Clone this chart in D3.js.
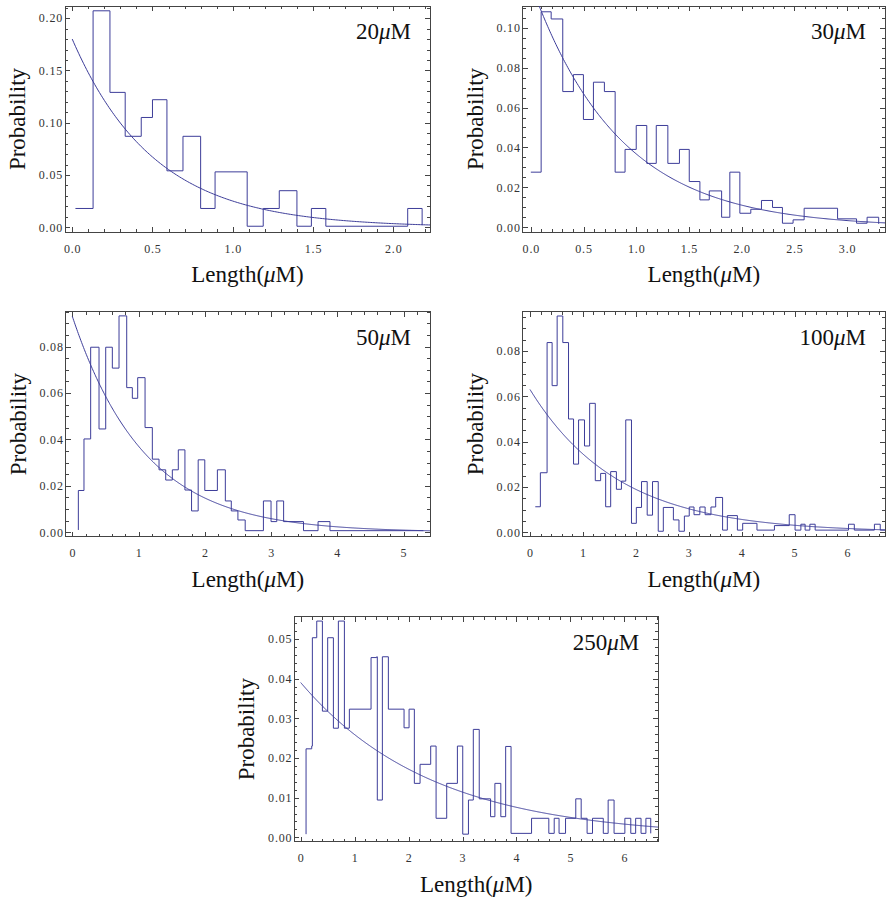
<!DOCTYPE html>
<html>
<head>
<meta charset="utf-8">
<script src="https://cdn.jsdelivr.net/npm/d3@7"></script>
<style>
  body { margin: 0; background: #fff; }
  svg { display: block; }
  .tick text { font-family: "Liberation Serif", "Times New Roman", serif; font-size: 12px; fill: #333; letter-spacing: 0.8px; }
  .tick line { stroke: #444; shape-rendering: crispEdges; }
  .title { font-family: "Liberation Serif", "Times New Roman", serif; font-size: 23px; fill: #111; }
</style>
</head>
<body>
<div id="chart"></div>
<script>
const width = 886;
const height = 900;

// Concentration of each panel
const concentrations = ["20", "30", "50", "100", "250"];

// Histogram steps: [x where the step starts, probability]
const hist20 = [
  [0.02, 0.018], [0.13, 0.207], [0.235, 0.129], [0.33, 0.087], [0.43, 0.105],
  [0.50, 0.122], [0.59, 0.054], [0.69, 0.087], [0.80, 0.018], [0.89, 0.053],
  [1.09, 0.001], [1.19, 0.018], [1.29, 0.035], [1.40, 0.001], [1.49, 0.018],
  [1.58, 0.001], [2.09, 0.018], [2.18, 0.002]
];
const hist30 = [
  [0.0, 0.0276], [0.098, 0.108], [0.193, 0.1044], [0.303, 0.068], [0.404, 0.0765],
  [0.499, 0.054], [0.594, 0.0727], [0.698, 0.068], [0.80, 0.0276], [0.894, 0.039],
  [1.00, 0.051], [1.10, 0.032], [1.19, 0.051], [1.30, 0.032], [1.41, 0.039],
  [1.503, 0.0229], [1.604, 0.0137], [1.693, 0.0182], [1.81, 0.005], [1.888, 0.0276],
  [1.983, 0.007], [2.087, 0.009], [2.188, 0.0134], [2.293, 0.0099], [2.387, 0.002],
  [2.488, 0.0037], [2.593, 0.0095], [2.91, 0.0042], [3.09, 0.002], [3.19, 0.005],
  [3.30, 0.0017]
];
const hist50 = [
  [0.091, 0.001], [0.091, 0.018], [0.176, 0.0402], [0.277, 0.0797], [0.403, 0.0445],
  [0.504, 0.0797], [0.604, 0.0707], [0.705, 0.0932], [0.821, 0.0623], [0.906, 0.0577],
  [0.987, 0.0666], [1.098, 0.0451], [1.208, 0.0315], [1.309, 0.0269], [1.41, 0.0225],
  [1.51, 0.0269], [1.60, 0.0355], [1.70, 0.0182], [1.80, 0.0092], [1.90, 0.0312],
  [2.0, 0.018], [2.19, 0.0269], [2.31, 0.0135], [2.40, 0.0092], [2.50, 0.0053],
  [2.61, 0.0007], [2.885, 0.0135], [3.0, 0.0046], [3.087, 0.0135], [3.19, 0.0046],
  [3.49, 0.0007], [3.71, 0.0046], [3.89, 0.0007], [5.3, 0.0007]
];
const hist100 = [
  [0.10, 0.0113], [0.196, 0.0263], [0.323, 0.0837], [0.418, 0.0647], [0.513, 0.0954],
  [0.62, 0.0837], [0.728, 0.050], [0.823, 0.0301], [0.918, 0.0496], [1.03, 0.0381],
  [1.127, 0.0569], [1.234, 0.0228], [1.335, 0.026], [1.43, 0.0113], [1.525, 0.0268],
  [1.633, 0.019], [1.728, 0.0226], [1.81, 0.0496], [1.918, 0.004], [2.01, 0.011],
  [2.108, 0.0224], [2.215, 0.0076], [2.316, 0.0224], [2.424, 0.0005], [2.52, 0.011],
  [2.71, 0.0055], [2.816, 0.0005], [2.918, 0.0072], [3.01, 0.0112], [3.10, 0.0078],
  [3.21, 0.0112], [3.31, 0.0078], [3.42, 0.0112], [3.51, 0.0154], [3.64, 0.001],
  [3.73, 0.0074], [3.92, 0.001], [4.02, 0.004], [4.29, 0.001], [4.62, 0.003],
  [4.90, 0.0078], [5.01, 0.001], [5.12, 0.0036], [5.20, 0.001], [5.29, 0.0036],
  [5.39, 0.001], [6.02, 0.0036], [6.13, 0.001], [6.51, 0.0036], [6.62, 0.001],
  [6.71, 0.001]
];
const hist250 = [
  [0.099, 0.0008], [0.099, 0.0223], [0.204, 0.023], [0.216, 0.0503], [0.297, 0.0545],
  [0.402, 0.0318], [0.50, 0.0503], [0.606, 0.0275], [0.698, 0.0545], [0.81, 0.0275],
  [0.902, 0.0323], [1.304, 0.0453], [1.409, 0.0455], [1.42, 0.0094], [1.514, 0.0455],
  [1.625, 0.0323], [1.916, 0.0276], [2.009, 0.0323], [2.107, 0.0136], [2.213, 0.0184],
  [2.41, 0.023], [2.51, 0.0048], [2.707, 0.0136], [2.905, 0.023], [3.004, 0.0008],
  [3.11, 0.0094], [3.20, 0.0272], [3.31, 0.0097], [3.52, 0.0052], [3.60, 0.0136],
  [3.71, 0.0052], [3.80, 0.0229], [3.90, 0.001], [4.28, 0.0048], [4.60, 0.001],
  [4.70, 0.0048], [4.79, 0.001], [4.91, 0.0048], [5.10, 0.0097], [5.20, 0.0048],
  [5.31, 0.001], [5.41, 0.0048], [5.61, 0.001], [5.70, 0.0094], [5.81, 0.001],
  [6.01, 0.0048], [6.12, 0.001], [6.21, 0.0048], [6.31, 0.001], [6.40, 0.0048],
  [6.49, 0.001]
];

// Exponential fit A * exp(-k x) estimated from each curve
const fitAmp = [0.18, 0.122, 0.093, 0.063, 0.039];
const fitRate = [1.97, 1.2, 0.92, 0.6, 0.41];

// Tick labels
const xTicks20 = [0, 0.5, 1, 1.5, 2];
const xTicks30 = [0, 0.5, 1, 1.5, 2, 2.5, 3];
const xTicks50 = [0, 1, 2, 3, 4, 5];
const xTicks100 = [0, 1, 2, 3, 4, 5, 6];
const xTicks250 = [0, 1, 2, 3, 4, 5, 6];
const yTicks20 = [0, 0.05, 0.10, 0.15, 0.20];
const yTicks30 = [0, 0.02, 0.04, 0.06, 0.08, 0.10];
const yTicks50 = [0, 0.02, 0.04, 0.06, 0.08];
const yTicks100 = [0, 0.02, 0.04, 0.06, 0.08];
const yTicks250 = [0, 0.01, 0.02, 0.03, 0.04, 0.05];

const histograms = [hist20, hist30, hist50, hist100, hist250];
const xTicks = [xTicks20, xTicks30, xTicks50, xTicks100, xTicks250];
const yTicks = [yTicks20, yTicks30, yTicks50, yTicks100, yTicks250];

// Panel frames (pixels), plot ranges and tick spacing
const layout = [
  { left: 65, right: 430, top: 6, bottom: 232, xDom: [-0.045, 2.229], yDom: [-0.0045, 0.2116], xMinor: 0.1, yMinor: 0.01, xFmt: ".1f" },
  { left: 522.7, right: 885, top: 6, bottom: 232, xDom: [-0.077, 3.36], yDom: [-0.0024, 0.1109], xMinor: 0.1, yMinor: 0.005, xFmt: ".1f" },
  { left: 65.7, right: 430, top: 311.7, bottom: 536.7, xDom: [-0.1, 5.40], yDom: [-0.0019, 0.095], xMinor: 0.2, yMinor: 0.005, xFmt: "d" },
  { left: 522.7, right: 885, top: 311.7, bottom: 536.7, xDom: [-0.138, 6.71], yDom: [-0.0019, 0.0973], xMinor: 0.2, yMinor: 0.005, xFmt: "d" },
  { left: 294.3, right: 658.3, top: 616.7, bottom: 841.7, xDom: [-0.119, 6.63], yDom: [-0.0011, 0.0556], xMinor: 0.2, yMinor: 0.002, xFmt: "d" }
];

const lineColor = "#3d3d99";
const frameColor = "#444";

const svg = d3.select("#chart")
  .append("svg")
  .attr("width", width)
  .attr("height", height);

// minor tick positions from 0 up to the end of the domain
function minorTicks(dom, step) {
  const n = Math.floor(dom[1] / step + 1e-6);
  return d3.range(0, n + 1).map(i => +(i * step).toFixed(6));
}

function noDomain(g) { g.select(".domain").remove(); }

layout.forEach((L, i) => {
  const g = svg.append("g");

  const x = d3.scaleLinear().domain(L.xDom).range([L.left, L.right]);
  const y = d3.scaleLinear().domain(L.yDom).range([L.bottom, L.top]);

  g.append("clipPath")
    .attr("id", "clip" + i)
    .append("rect")
    .attr("x", L.left)
    .attr("y", L.top)
    .attr("width", L.right - L.left)
    .attr("height", L.bottom - L.top);

  const xm = minorTicks(L.xDom, L.xMinor);
  const ym = minorTicks(L.yDom, L.yMinor);

  // bottom axis
  g.append("g")
    .attr("transform", `translate(0,${L.bottom})`)
    .call(d3.axisBottom(x).tickValues(xm).tickSize(-3).tickSizeOuter(0).tickFormat(""))
    .call(noDomain);
  g.append("g")
    .attr("transform", `translate(0,${L.bottom})`)
    .call(d3.axisBottom(x).tickValues(xTicks[i]).tickSize(-5).tickSizeOuter(0).tickPadding(12).tickFormat(d3.format(L.xFmt)))
    .call(noDomain);

  // top axis, ticks only
  g.append("g")
    .attr("transform", `translate(0,${L.top})`)
    .call(d3.axisTop(x).tickValues(xm).tickSize(-3).tickSizeOuter(0).tickFormat(""))
    .call(noDomain);
  g.append("g")
    .attr("transform", `translate(0,${L.top})`)
    .call(d3.axisTop(x).tickValues(xTicks[i]).tickSize(-5).tickSizeOuter(0).tickFormat(""))
    .call(noDomain);

  // left axis
  g.append("g")
    .attr("transform", `translate(${L.left},0)`)
    .call(d3.axisLeft(y).tickValues(ym).tickSize(-3).tickSizeOuter(0).tickFormat(""))
    .call(noDomain);
  g.append("g")
    .attr("transform", `translate(${L.left},0)`)
    .call(d3.axisLeft(y).tickValues(yTicks[i]).tickSize(-5).tickSizeOuter(0).tickPadding(2).tickFormat(d3.format(".2f")))
    .call(noDomain);

  // right axis, ticks only
  g.append("g")
    .attr("transform", `translate(${L.right},0)`)
    .call(d3.axisRight(y).tickValues(ym).tickSize(-3).tickSizeOuter(0).tickFormat(""))
    .call(noDomain);
  g.append("g")
    .attr("transform", `translate(${L.right},0)`)
    .call(d3.axisRight(y).tickValues(yTicks[i]).tickSize(-5).tickSizeOuter(0).tickFormat(""))
    .call(noDomain);

  g.selectAll(".tick text").attr("fill", "#333").attr("font-family", null).attr("font-size", null);

  // frame
  g.append("rect")
    .attr("x", L.left)
    .attr("y", L.top)
    .attr("width", L.right - L.left)
    .attr("height", L.bottom - L.top)
    .attr("fill", "none")
    .attr("stroke", frameColor)
    .attr("stroke-width", 1)
    .style("shape-rendering", "crispEdges");

  // histogram as a step line
  const step = d3.line()
    .x(d => x(d[0]))
    .y(d => y(d[1]))
    .curve(d3.curveStepAfter);

  g.append("path")
    .datum(histograms[i])
    .attr("clip-path", `url(#clip${i})`)
    .attr("d", step)
    .attr("fill", "none")
    .attr("stroke", lineColor)
    .attr("stroke-width", 1);

  // exponential fit
  const fitPts = d3.range(0, L.xDom[1] + 0.01, 0.01).map(t => [t, fitAmp[i] * Math.exp(-fitRate[i] * t)]);
  g.append("path")
    .datum(fitPts)
    .attr("clip-path", `url(#clip${i})`)
    .attr("d", d3.line().x(d => x(d[0])).y(d => y(d[1])))
    .attr("fill", "none")
    .attr("stroke", lineColor)
    .attr("stroke-width", 1);

  // concentration label
  const lab = g.append("text")
    .attr("class", "title")
    .attr("x", L.right - 19)
    .attr("y", L.top + 33)
    .attr("text-anchor", "end");
  lab.append("tspan").text(concentrations[i]);
  lab.append("tspan").attr("font-style", "italic").text("μ");
  lab.append("tspan").text("M");

  // axis titles
  g.append("text")
    .attr("class", "title")
    .attr("transform", `translate(${L.left - 40},${(L.top + L.bottom) / 2}) rotate(-90)`)
    .attr("text-anchor", "middle")
    .text("Probability");

  const xt = g.append("text")
    .attr("class", "title")
    .attr("x", (L.left + L.right) / 2)
    .attr("y", L.bottom + 50)
    .attr("text-anchor", "middle");
  xt.append("tspan").text("Length(");
  xt.append("tspan").attr("font-style", "italic").text("μ");
  xt.append("tspan").text("M)");
});
</script>
</body>
</html>
